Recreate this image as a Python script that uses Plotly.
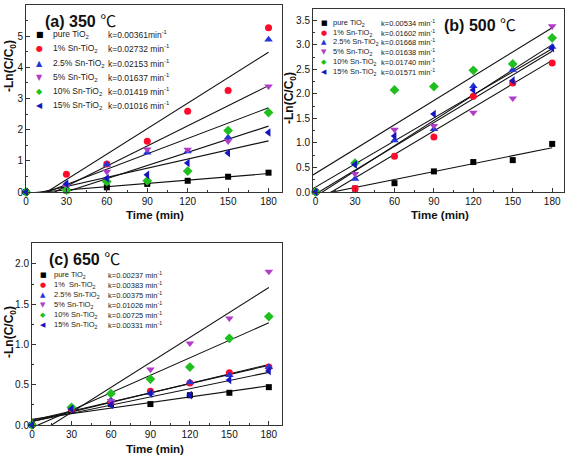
import numpy as np
import plotly.graph_objects as go

W, H = 567, 456

# ---------------- data ----------------
time_min = [0, 30, 60, 90, 120, 150, 180]

names_ab = ["pure TiO<sub>2</sub>", "1% Sn-TiO<sub>2</sub>", "2.5% Sn-TiO<sub>2</sub>",
            "5% Sn-TiO<sub>2</sub>", "10% Sn-TiO<sub>2</sub>", "15% Sn-TiO<sub>2</sub>"]
names_c = ["pure TiO<sub>2</sub>", "1%  Sn-TiO<sub>2</sub>", "2.5% Sn-TiO<sub>2</sub>",
           "5% Sn-TiO<sub>2</sub>", "10% Sn-TiO<sub>2</sub>", "15% Sn-TiO<sub>2</sub>"]

# (a) 350 C
a_pure = [0, 0.05, 0.15, 0.26, 0.36, 0.49, 0.62]
a_sn1 = [0, 0.57, 0.90, 1.63, 2.59, 3.26, 5.27]
a_sn25 = [0, 0.26, 0.88, 1.26, 1.30, 1.75, 4.89]
a_sn5 = [0, 0.17, 0.65, 1.37, 1.36, 1.63, 3.39]
a_sn10 = [0, 0.06, 0.33, 0.36, 0.67, 1.97, 2.55]
a_sn15 = [0, 0.26, 0.44, 0.55, 0.93, 1.25, 1.91]
k_a = ["k=0.00361min<sup>-1</sup>", "k=0.02732 min<sup>-1</sup>", "k=0.02153 min<sup>-1</sup>",
       "k=0.01637 min<sup>-1</sup>", "k=0.01419 min<sup>-1</sup>", "k=0.01016 min<sup>-1</sup>"]

# (b) 500 C
b_pure = [0, 0.07, 0.18, 0.42, 0.61, 0.65, 0.98]
b_sn1 = [0, 0.07, 0.73, 1.12, 1.95, 2.22, 2.63]
b_sn25 = [0, 0.27, 1.05, 1.28, 2.16, 2.49, 2.96]
b_sn5 = [0, 0.37, 1.27, 1.35, 1.62, 1.91, 3.38]
b_sn10 = [0, 0.59, 2.08, 2.15, 2.48, 2.61, 3.14]
b_sn15 = [0, 0.56, 1.14, 1.59, 2.08, 2.27, 2.93]
k_b = ["k=0.00534 min<sup>-1</sup>", "k=0.01602 min<sup>-1</sup>", "k=0.01668 min<sup>-1</sup>",
       "k=0.01638 min<sup>-1</sup>", "k=0.01740 min<sup>-1</sup>", "k=0.01571 min<sup>-1</sup>"]

# (c) 650 C
c_pure = [0, 0.19, 0.26, 0.26, 0.37, 0.40, 0.47]
c_sn1 = [0, 0.20, 0.28, 0.42, 0.52, 0.65, 0.72]
c_sn25 = [0, 0.22, 0.31, 0.40, 0.53, 0.62, 0.72]
c_sn5 = [0, 0.20, 0.30, 0.69, 1.015, 1.325, 1.905]
c_sn10 = [0, 0.22, 0.39, 0.57, 0.72, 1.077, 1.346]
c_sn15 = [0, 0.20, 0.25, 0.39, 0.37, 0.56, 0.67]
k_c = ["k=0.00237 min<sup>-1</sup>", "k=0.00383 min<sup>-1</sup>", "k=0.00375 min<sup>-1</sup>",
       "k=0.01026 min<sup>-1</sup>", "k=0.00725 min<sup>-1</sup>", "k=0.00331 min<sup>-1</sup>"]

# ---------------- styles ----------------
colors = ["#000000", "#FF0A2A", "#2436D8", "#B03CC8", "#1FBF1F", "#1414C0"]
symbols = ["square", "circle", "triangle-up", "triangle-down", "diamond", "triangle-left"]
legend_glyphs = ["\u25A0", "\u25CF", "\u25B2", "\u25BC", "\u25C6", "\u25C0"]
msize = [6, 7, 7.5, 7.5, 7.5, 7.5]

FONT = "Liberation Sans, Arial, sans-serif"


def px(x):
    return x / W


def py(y):
    return 1 - y / H


panels = [
    dict(ax="", dom_x=(26, 282), dom_y=(5, 192), xr=[0, 190], yr=[0, 6], ydt=1, ymin=0.5, fmt="d",
         data=[a_pure, a_sn1, a_sn25, a_sn5, a_sn10, a_sn15], names=names_ab, ks=k_a,
         title="(a) 350", tpos=(43, 20), leg=(39.5, 51, 105.5, 34.9, 14.1), lfs=8.5,
         xt=(155, 215), yt=(10, 66)),
    dict(ax="2", dom_x=(313, 564), dom_y=(9, 192), xr=[-2, 189], yr=[0, 3.73], ydt=0.5, ymin=0.25, fmt=".1f",
         data=[b_pure, b_sn1, b_sn25, b_sn5, b_sn10, b_sn15], names=names_ab, ks=k_b,
         title="(b) 500", tpos=(442, 24), leg=(324, 331, 378.5, 22.7, 9.8), lfs=7.5,
         xt=(440, 215), yt=(290, 98)),
    dict(ax="3", dom_x=(32, 282), dom_y=(243, 425), xr=[0, 190], yr=[0, 2.26], ydt=0.5, ymin=0.25, fmt=".1f",
         data=[c_pure, c_sn1, c_sn25, c_sn5, c_sn10, c_sn15], names=names_c, ks=k_c,
         title="(c) 650", tpos=(47, 258), leg=(43, 51.5, 105.5, 275, 9.9), lfs=7.5,
         xt=(155, 449), yt=(10, 332)),
]

fig = go.Figure()
annotations = []
layout_axes = {}

t = np.array(time_min, dtype=float)

for p in panels:
    xa = "x" + p["ax"]
    ya = "y" + p["ax"]
    # fit lines (linear least squares through every point)
    for vals in p["data"]:
        slope, icpt = np.polyfit(t, np.array(vals, dtype=float), 1)
        xl = np.array([p["xr"][0], t.max()])
        fig.add_trace(go.Scatter(x=xl, y=slope * xl + icpt, mode="lines", xaxis=xa, yaxis=ya,
                                 line=dict(color="#111111", width=1.1), showlegend=False,
                                 hoverinfo="skip"))
    for i, vals in enumerate(p["data"]):
        fig.add_trace(go.Scatter(x=time_min, y=vals, mode="markers", xaxis=xa, yaxis=ya,
                                 marker=dict(symbol=symbols[i], color=colors[i], size=msize[i],
                                             line=dict(width=0)),
                                 showlegend=False, cliponaxis=False))

    xk = "xaxis" + p["ax"]
    yk = "yaxis" + p["ax"]
    common = dict(showline=True, linecolor="#333333", linewidth=1, mirror=True,
                  ticks="inside", ticklen=4, tickwidth=1, tickcolor="#333333",
                  showgrid=False, zeroline=False, automargin=False,
                  tickfont=dict(family=FONT, size=10, color="#111111"))
    layout_axes[xk] = dict(domain=[px(p["dom_x"][0]), px(p["dom_x"][1])], range=p["xr"],
                           anchor=ya, tick0=0, dtick=30,
                           minor=dict(ticks="inside", ticklen=2, dtick=15, tick0=0,
                                      tickcolor="#333333"),
                           **common)
    layout_axes[yk] = dict(domain=[py(p["dom_y"][1]), py(p["dom_y"][0])], range=p["yr"],
                           anchor=xa, tick0=0, dtick=p["ydt"], tickformat=p["fmt"],
                           minor=dict(ticks="inside", ticklen=2, dtick=p["ymin"], tick0=0,
                                      tickcolor="#333333"),
                           **common)

    # panel title
    annotations.append(dict(xref="paper", yref="paper", x=px(p["tpos"][0]), y=py(p["tpos"][1]),
                            xanchor="left", yanchor="middle", showarrow=False,
                            text="<b>" + p["title"] + "</b> <span style='font-family:Noto Sans CJK SC'>\u2103</span>",
                            font=dict(family=FONT, size=16, color="#111111")))
    # legend (text-based)
    sx, nx, kx, y0, dy = p["leg"]
    for i in range(6):
        yy = y0 + dy * i
        annotations.append(dict(xref="paper", yref="paper", x=px(sx), y=py(yy),
                                xanchor="center", yanchor="middle", showarrow=False,
                                text=legend_glyphs[i],
                                font=dict(family="DejaVu Sans", size=p["lfs"] - 0.5, color=colors[i])))
        annotations.append(dict(xref="paper", yref="paper", x=px(nx), y=py(yy),
                                xanchor="left", yanchor="middle", showarrow=False,
                                text=p["names"][i],
                                font=dict(family=FONT, size=p["lfs"], color="#222222")))
        annotations.append(dict(xref="paper", yref="paper", x=px(kx), y=py(yy),
                                xanchor="left", yanchor="middle", showarrow=False,
                                text=p["ks"][i],
                                font=dict(family=FONT, size=p["lfs"], color="#222222")))
    # axis titles
    annotations.append(dict(xref="paper", yref="paper", x=px(p["xt"][0]), y=py(p["xt"][1]),
                            xanchor="center", yanchor="middle", showarrow=False,
                            text="<b>Time (min)</b>",
                            font=dict(family=FONT, size=11.5, color="#111111")))
    annotations.append(dict(xref="paper", yref="paper", x=px(p["yt"][0]), y=py(p["yt"][1]),
                            xanchor="center", yanchor="middle", showarrow=False, textangle=-90,
                            text="<b>-Ln(C/C<sub>0</sub>)</b>",
                            font=dict(family=FONT, size=12, color="#111111")))

fig.update_layout(width=W, height=H, margin=dict(l=0, r=0, t=0, b=0, autoexpand=False),
                  paper_bgcolor="white", plot_bgcolor="white", showlegend=False,
                  annotations=annotations, **layout_axes)

fig.write_html("out.html", config={"displayModeBar": False},
               post_script="document.body.style.margin='0';document.body.style.padding='0';")
